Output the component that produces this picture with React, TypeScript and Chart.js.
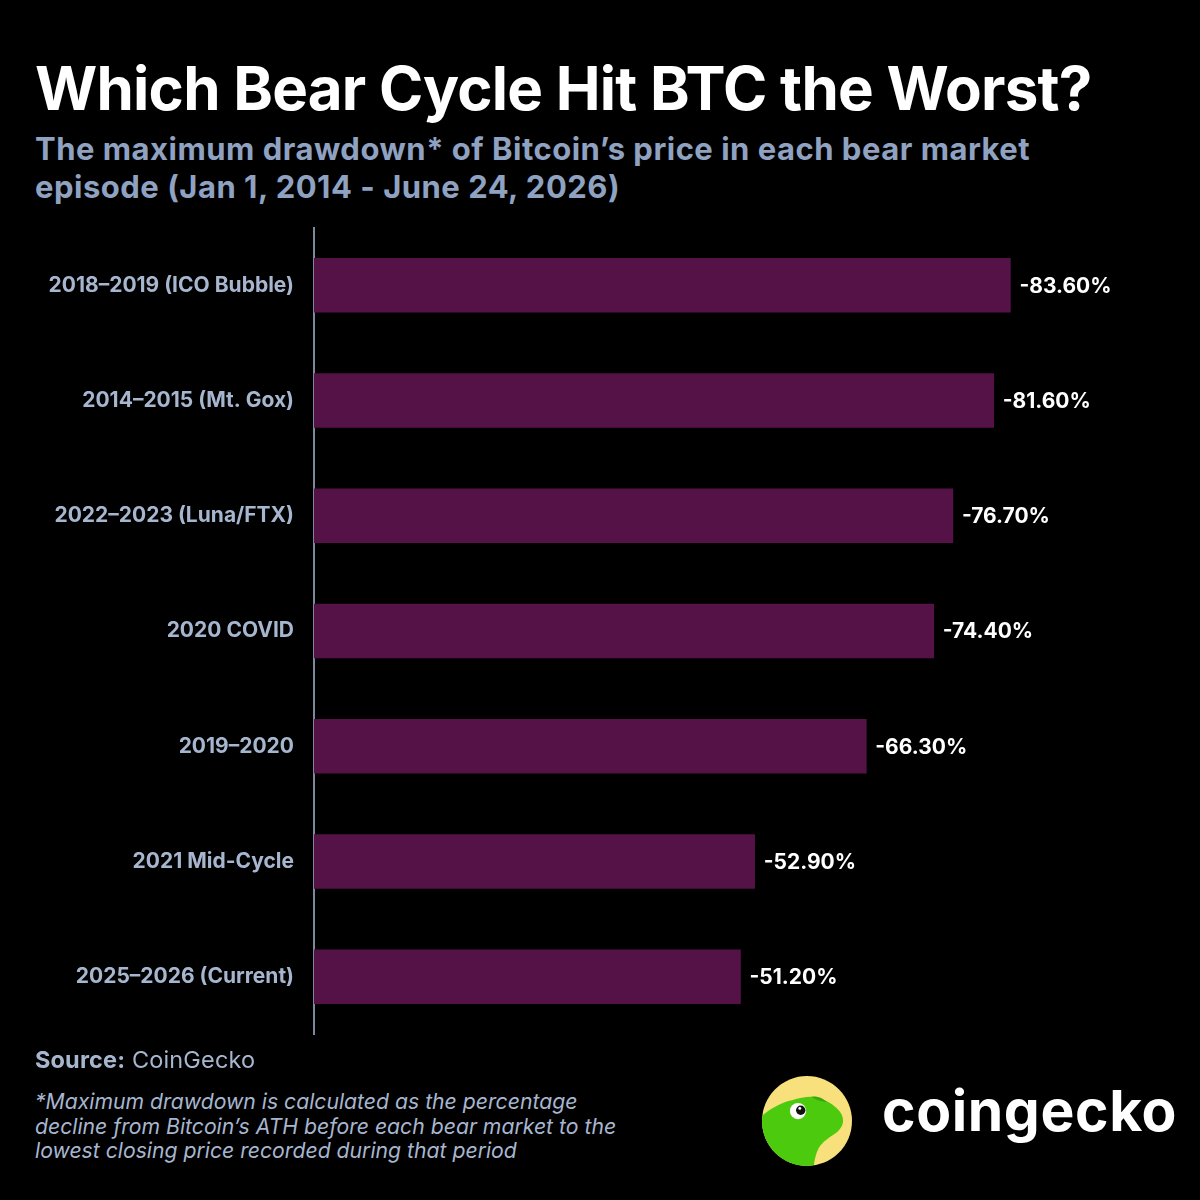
import React, { useEffect, useRef } from "react";
import { Chart, registerables } from "chart.js";

Chart.register(...registerables);

const categories = [
  "2018–2019 (ICO Bubble)",
  "2014–2015 (Mt. Gox)",
  "2022–2023 (Luna/FTX)",
  "2020 COVID",
  "2019–2020",
  "2021 Mid-Cycle",
  "2025–2026 (Current)",
];
const drawdowns = [-83.6, -81.6, -76.7, -74.4, -66.3, -52.9, -51.2];
const axisMin = -100;
const axisMax = 0;

const FONT = "Inter, 'Noto Sans', sans-serif";
const BAR = "#541246";
const LABEL = "#a7b6cf";

const valueLabels = {
  id: "valueLabels",
  afterDatasetsDraw(chart: any) {
    const ctx = chart.ctx;
    const meta = chart.getDatasetMeta(0);
    ctx.save();
    ctx.fillStyle = "#ffffff";
    ctx.font = `700 21px ${FONT}`;
    ctx.textAlign = "left";
    ctx.textBaseline = "middle";
    meta.data.forEach((bar: any, i: number) => {
      const v = chart.data.datasets[0].data[i] as number;
      ctx.fillText(`${v.toFixed(2)}%`, bar.x + 9, bar.y + 1);
    });
    ctx.restore();
  },
};

function BarChart() {
  const ref = useRef<HTMLCanvasElement>(null);
  useEffect(() => {
    let chart: any = null;
    let cancelled = false;
    const make = () => {
      if (cancelled || !ref.current) return;
      chart = new Chart(ref.current, {
        type: "bar",
        data: {
          labels: categories,
          datasets: [
            {
              data: drawdowns,
              backgroundColor: BAR,
              borderWidth: 0,
              barThickness: 54,
            },
          ],
        },
        options: {
          indexAxis: "y",
          responsive: false,
          animation: false,
          devicePixelRatio: 1,
          layout: { padding: { top: 8, right: 53, bottom: 15, left: 0 } },
          plugins: {
            legend: { display: false },
            tooltip: { enabled: false },
          },
          scales: {
            x: { display: false, min: axisMin, max: axisMax, reverse: true },
            y: {
              grid: { display: false, drawTicks: false },
              border: { display: true, color: "#7c889c", width: 2 },
              ticks: {
                color: LABEL,
                padding: 20,
                font: { family: FONT, size: 21, weight: "700" },
              },
              afterFit: (s: any) => {
                s.width = 314;
              },
            },
          },
        },
        plugins: [valueLabels],
      } as any);
    };
    const fonts: any = (document as any).fonts;
    if (fonts && fonts.load) {
      Promise.all([fonts.load(`700 21px Inter`)])
        .catch(() => {})
        .then(make);
    } else make();
    return () => {
      cancelled = true;
      if (chart) chart.destroy();
    };
  }, []);
  return (
    <canvas
      ref={ref}
      width={1200}
      height={872}
      style={{ position: "absolute", left: 0, top: 195, width: 1200, height: 872 }}
    />
  );
}

function Logo() {
  return (
    <svg
      width={90}
      height={90}
      viewBox="0 0 100 100"
      style={{ position: "absolute", left: 762, top: 1076 }}
    >
      <defs>
        <clipPath id="cgc">
          <circle cx="50" cy="50" r="50" />
        </clipPath>
      </defs>
      <circle cx="50" cy="50" r="50" fill="#f8e07c" />
      <g clipPath="url(#cgc)">
        <path
          d="M -5 48 C 5 40, 18 30, 33 27 C 45 23, 55 22, 63 24 C 74 28, 84 35, 88 42 C 92 50, 90 56, 84 62 C 76 68, 68 72, 63 80 C 59 88, 58 96, 57 104 L -5 110 Z"
          fill="#4ccb0e"
        />
        <path d="M 55 23 C 62 22, 68 25, 72 29 C 66 28, 60 27, 55 23 Z" fill="#3aa80a" />
        <circle cx="40" cy="39" r="9" fill="#ffffff" />
        <circle cx="43" cy="38" r="5.2" fill="#111111" />
        <circle cx="42" cy="36" r="1.6" fill="#ffffff" />
      </g>
    </svg>
  );
}

export default function App() {
  return (
    <div
      style={{
        position: "absolute",
        left: 0,
        top: 0,
        width: 1200,
        height: 1200,
        background: "#000000",
        overflow: "hidden",
        fontFamily: FONT,
      }}
    >
      <div
        style={{
          position: "absolute",
          left: 35,
          top: 58,
          fontSize: 60,
          lineHeight: "60px",
          fontWeight: 700,
          color: "#ffffff",
          letterSpacing: -0.75,
          whiteSpace: "nowrap",
        }}
      >
        Which Bear Cycle Hit BTC the Worst?
      </div>
      <div
        style={{
          position: "absolute",
          left: 35,
          top: 130,
          width: 1150,
          fontSize: 31,
          lineHeight: "38px",
          fontWeight: 700,
          color: "#8fa2c1",
          letterSpacing: 0.5,
          whiteSpace: "nowrap",
        }}
      >
        The maximum drawdown* of Bitcoin’s price in each bear market
        <br />
        episode (Jan 1, 2014 - June 24, 2026)
      </div>
      <BarChart />
      <div
        style={{
          position: "absolute",
          left: 35,
          top: 1046,
          fontSize: 23.5,
          lineHeight: "28px",
          color: LABEL,
          whiteSpace: "nowrap",
          letterSpacing: 0.15,
        }}
      >
        <span style={{ fontWeight: 700 }}>Source:</span> CoinGecko
      </div>
      <div
        style={{
          position: "absolute",
          left: 35,
          top: 1089,
          fontSize: 21.2,
          lineHeight: "24.5px",
          fontStyle: "italic",
          color: LABEL,
          whiteSpace: "nowrap",
        }}
      >
        *Maximum drawdown is calculated as the percentage
        <br />
        decline from Bitcoin’s ATH before each bear market to the
        <br />
        lowest closing price recorded during that period
      </div>
      <Logo />
      <div
        style={{
          position: "absolute",
          left: 882,
          top: 1082,
          fontSize: 57,
          lineHeight: "57px",
          fontWeight: 700,
          color: "#ffffff",
          letterSpacing: 0.6,
          whiteSpace: "nowrap",
        }}
      >
        coingecko
      </div>
    </div>
  );
}
